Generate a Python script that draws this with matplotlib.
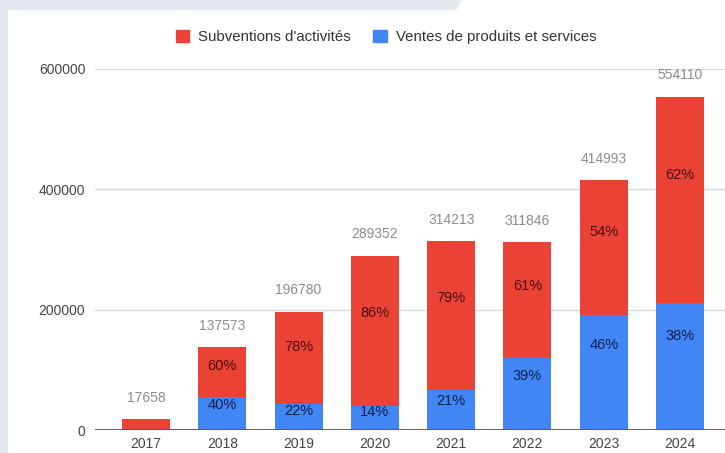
import matplotlib.pyplot as plt
import matplotlib.patches as mpatches
import numpy as np

plt.rcParams['font.family'] = ['Liberation Sans', 'DejaVu Sans']

# donnees
annees = ['2017', '2018', '2019', '2020', '2021', '2022', '2023', '2024']
totaux = [17658, 137573, 196780, 289352, 314213, 311846, 414993, 554110]
ventes = [0, 55029, 43292, 40509, 65985, 121620, 190897, 210562]
subventions = [t - v for t, v in zip(totaux, ventes)]

ROUGE = '#ea4335'
BLEU = '#4285f4'

fig = plt.figure(figsize=(7.25, 4.53), dpi=100)
fig.patch.set_facecolor('#e3e9ef')
# panneau blanc
fond = mpatches.Polygon([(8/725, 0), (1, 0), (1, 1), (462/725, 1), (456/725, 1-10/453), (8/725, 1-10/453)],
                        closed=True, transform=fig.transFigure, facecolor='white', edgecolor='none', zorder=-10)
fig.patches.append(fond)

ax = fig.add_axes([95/725, 1-430/453, 1-95/725, (430-69)/453])
ax.set_facecolor('none')
x = np.arange(len(annees))
w = 0.63

b1 = ax.bar(x, ventes, w, color=BLEU, zorder=3)
b2 = ax.bar(x, subventions, w, bottom=ventes, color=ROUGE, zorder=3)

for i in range(len(annees)):
    t = totaux[i]
    ax.text(x[i], t + 24000, str(t), ha='center', va='bottom', fontsize=10, color='#8c8c8c')
    if t < 50000:
        continue
    pv = round(ventes[i] / t * 100)
    ps = round(subventions[i] / t * 100)
    ax.text(x[i], ventes[i] * 0.74, f'{pv}%', ha='center', va='center', fontsize=10.5, color='#0d1f4a', zorder=4)
    ax.text(x[i], ventes[i] + subventions[i] * 0.62, f'{ps}%', ha='center', va='center', fontsize=10.5,
            color='#4a0d0a', zorder=4)

ax.set_ylim(0, 600000)
ax.set_xlim(-0.668, 7.59)
ax.set_yticks([0, 200000, 400000, 600000])
ax.set_yticklabels(['0', '200000', '400000', '600000'])
ax.set_xticks(x)
ax.set_xticklabels(annees)
ax.grid(axis='y', color='#d9d9d9', linewidth=1, zorder=0)
ax.axhline(0, color='#555555', linewidth=1.3, zorder=5)
for s in ax.spines.values():
    s.set_visible(False)
ax.tick_params(axis='both', length=0, labelsize=10, colors='#444444')
ax.tick_params(axis='y', pad=7)
ax.tick_params(axis='x', pad=5)

leg = fig.legend(handles=[mpatches.Patch(color=ROUGE, label="Subventions d'activités"),
                          mpatches.Patch(color=BLEU, label='Ventes de produits et services')],
                 loc='center', bbox_to_anchor=(386/725, 1-37/453), ncol=2, frameon=False,
                 fontsize=10.8, handlelength=0.9, handleheight=0.9, columnspacing=1.5, handletextpad=0.6)
for t in leg.get_texts():
    t.set_color('#333333')

fig.savefig('out.png', dpi=100)
